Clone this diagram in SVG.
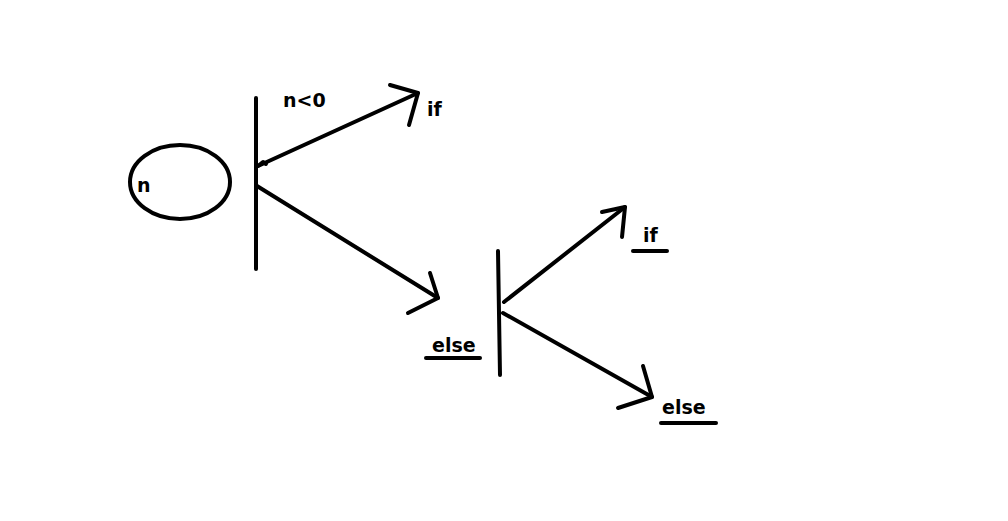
<svg xmlns="http://www.w3.org/2000/svg" width="1008" height="521" viewBox="0 0 1008 521">
<style>
.s{stroke:#000;stroke-width:4;fill:none;stroke-linecap:round;stroke-linejoin:round}
.t{font-family:"DejaVu Sans",sans-serif;font-weight:bold;font-size:19px;fill:#000}
.u{stroke:#000;stroke-width:4;stroke-linecap:round}
</style>
<rect width="1008" height="521" fill="#fff"/>
<g id="node-n">
<ellipse class="s" cx="180" cy="182" rx="50" ry="37"/>
<text class="t" x="137" y="192">n</text>
</g>
<g id="split1">
<line class="s" x1="256" y1="98" x2="256" y2="269"/>
</g>
<g id="split2">
<line class="s" x1="498" y1="251" x2="500" y2="375"/>
</g>
<g id="label-n0"><text class="t" x="283" y="107">n&lt;0</text></g>
<g id="label-if1"><text class="t" x="427" y="116">if</text></g>
<g id="label-if2"><text class="t" x="643" y="242">if</text><line class="u" x1="633" y1="251" x2="667" y2="251"/></g>
<g id="label-else1"><text class="t" x="432" y="352">else</text><line class="u" x1="426" y1="358" x2="480" y2="358"/></g>
<g id="label-else2"><text class="t" x="662" y="414">else</text><line class="u" x1="661" y1="423" x2="716" y2="423"/></g>
<g id="connectors">
<polyline class="s" points="258,166 418,93"/>
<polyline class="s" points="390,85 418,93 409,125"/>
<polyline class="s" points="258,166 263,162 266,164"/>
<polyline class="s" points="257,186 438,298"/>
<polyline class="s" points="430,273 438,298 408,313"/>
<polyline class="s" points="504,302 625,207"/>
<polyline class="s" points="602,212 625,207 622,237"/>
<polyline class="s" points="503,313 652,397"/>
<polyline class="s" points="643,366 652,397 618,408"/>
</g>
</svg>
